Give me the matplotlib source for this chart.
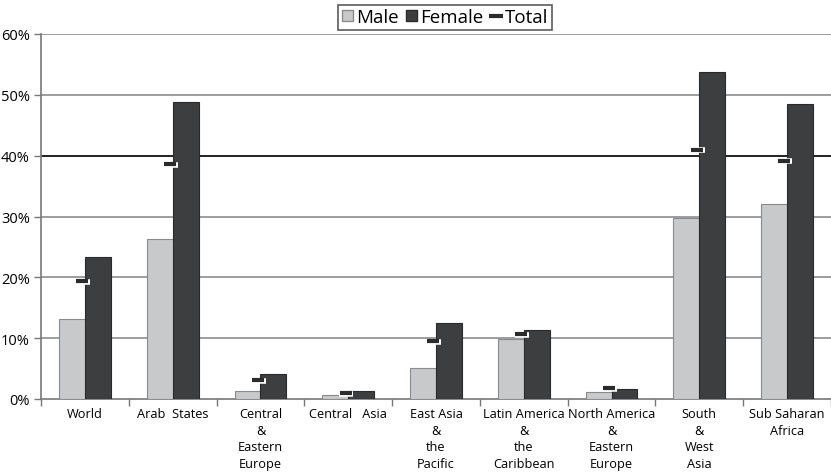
import matplotlib
matplotlib.use("Agg")
import matplotlib.pyplot as plt
import numpy as np
from matplotlib.lines import Line2D
from matplotlib.patches import Patch

plt.rcParams['font.family'] = ['Open Sans', 'DejaVu Sans']

regions = ["World", "Arab  States", "Central\n&\nEastern\nEurope", "Central   Asia",
           "East Asia\n&\nthe\nPacific", "Latin America\n&\nthe\nCaribbean",
           "North America\n&\nEastern\nEurope", "South\n&\nWest\nAsia", "Sub Saharan\nAfrica"]
male = [13.2, 26.3, 1.3, 0.6, 5.1, 9.9, 1.2, 29.8, 32.0]
female = [23.4, 48.8, 4.1, 1.3, 12.5, 11.3, 1.7, 53.8, 48.5]
total = [19.4, 38.6, 3.1, 1.0, 9.5, 10.7, 1.8, 41.0, 39.2]
yticks = [0, 10, 20, 30, 40, 50, 60]

male_c = "#c8c9cb"
female_c = "#3d3e40"

fig = plt.figure(figsize=(8.31, 4.77), dpi=100)
ax = fig.add_axes([41/831, 77/477, 790/831, 365/477])

x = np.arange(len(regions))
w = 0.295
ax.bar(x - w/2, male, w, color=male_c, edgecolor="#8a8a8a", linewidth=0.8, zorder=3)
ax.bar(x + w/2, female, w, color=female_c, edgecolor="#2a2a2a", linewidth=0.8, zorder=3)

# total markers: dark dash with a light outline on the lower right
tx = x - 0.03
ax.plot(tx + 0.01, np.array(total) - 0.1, linestyle="none", marker="_", markersize=10,
        markeredgewidth=4.0, color="white", zorder=4)
ax.plot(tx, total, linestyle="none", marker="_", markersize=9,
        markeredgewidth=3.0, color="#2b2b2b", zorder=5)

ax.set_xlim(-0.5, len(regions) - 0.5)
ax.set_ylim(0, 60)
ax.set_yticks(yticks)
ax.set_yticklabels([f"{v}%" for v in yticks], fontsize=10.5)

for v in yticks[1:]:
    ax.axhline(v, color="#111111" if v == 40 else "#8c8c8c",
               linewidth=1.3 if v == 40 else 1.2, zorder=1)

ax.set_xticks(x)
ax.set_xticklabels(regions, fontsize=9.2, linespacing=1.35)
ax.tick_params(axis="x", length=0, pad=6)
ax.set_xticks(np.arange(len(regions) + 1) - 0.5, minor=True)
ax.tick_params(axis="x", which="minor", length=5, color="#777777", width=1)
ax.tick_params(axis="y", length=5, color="#777777", width=1, pad=3)

for s in ["top", "right"]:
    ax.spines[s].set_visible(False)
ax.spines["left"].set_color("#777777")
ax.spines["bottom"].set_color("#777777")
ax.spines["left"].set_linewidth(1.2)
ax.spines["bottom"].set_linewidth(1.2)

handles = [Patch(facecolor=male_c, edgecolor="#8a8a8a", label="Male"),
           Patch(facecolor=female_c, edgecolor="#2a2a2a", label="Female"),
           Line2D([], [], linestyle="none", marker="_", markersize=10, markeredgewidth=3,
                  color="#2b2b2b", label="Total")]
leg = fig.legend(handles=handles, loc="upper center", bbox_to_anchor=(0.536, 1.0),
                 ncol=3, fontsize=13.5, frameon=True, fancybox=False, edgecolor="#333333",
                 handlelength=0.55, handleheight=0.55, handletextpad=0.2, columnspacing=0.4,
                 borderpad=0.2, borderaxespad=0.3)
leg.get_frame().set_linewidth(1.2)

fig.savefig("out.png", dpi=100)
